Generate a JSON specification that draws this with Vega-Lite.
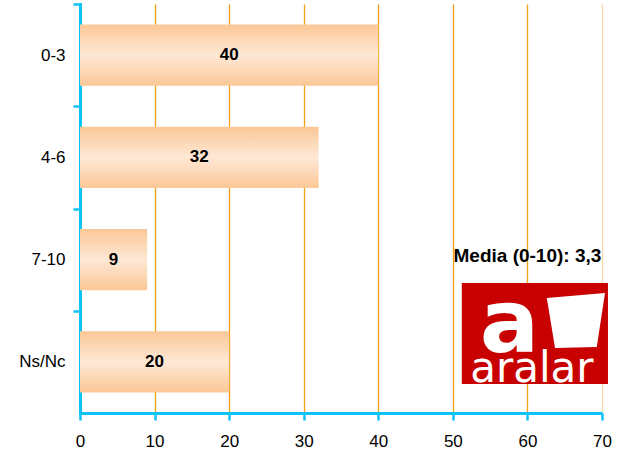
{
  "$schema": "https://vega.github.io/schema/vega-lite/v6.json",
  "width": 522,
  "height": 409,
  "autosize": {"type": "none"},
  "padding": {"left": 80, "top": 4, "right": 25, "bottom": 39},
  "background": "white",
  "config": {
    "view": {"stroke": null},
    "font": "Liberation Sans",
    "axis": {
      "domainColor": "#0BC3F7",
      "domainWidth": 3,
      "tickColor": "#0BC3F7",
      "tickWidth": 2.5,
      "tickSize": 7,
      "labelFont": "Liberation Sans",
      "labelFontSize": 17,
      "labelColor": "#000000",
      "title": null
    }
  },
  "layer": [
    {
      "data": {
        "values": [
          {"cat": "0-3", "value": 40},
          {"cat": "4-6", "value": 32},
          {"cat": "7-10", "value": 9},
          {"cat": "Ns/Nc", "value": 20}
        ]
      },
      "encoding": {
        "y": {
          "field": "cat",
          "type": "nominal",
          "sort": null,
          "scale": {"paddingInner": 0.4, "paddingOuter": 0.2},
          "axis": {"bandPosition": 0, "tickOffset": -20.45, "labelOffset": 20.45, "labelPadding": 8, "domainCap": "square"}
        }
      },
      "layer": [
        {
          "mark": {
            "type": "bar",
            "color": {
              "gradient": "linear",
              "x1": 0, "y1": 0, "x2": 0, "y2": 1,
              "stops": [
                {"offset": 0, "color": "#FBC796"},
                {"offset": 0.5, "color": "#FEE8D5"},
                {"offset": 1, "color": "#FBC796"}
              ]
            }
          },
          "encoding": {
            "x": {
              "field": "value",
              "type": "quantitative",
              "scale": {"domain": [0, 70], "nice": false},
              "axis": {
                "values": [0, 10, 20, 30, 40, 50, 60, 70],
                "grid": true,
                "gridColor": {"condition": {"test": "datum.value === 70", "value": "#FBD8AC"}, "value": "#F6A014"},
                "gridWidth": 1.3,
                "labelPadding": 13,
                "labelFlush": false
              }
            }
          }
        },
        {
          "transform": [{"calculate": "datum.value / 2", "as": "mid"}],
          "mark": {"type": "text", "fontWeight": "bold", "fontSize": 17, "color": "#000000"},
          "encoding": {
            "x": {"field": "mid", "type": "quantitative"},
            "text": {"field": "value", "type": "quantitative"}
          }
        },
        {
          "data": {"values": [{"label": "Media (0-10): 3,3"}]},
          "mark": {"type": "text", "fontWeight": "bold", "fontSize": 19, "color": "#000000", "dy": -4},
          "encoding": {
            "x": {"datum": 60.0, "type": "quantitative"},
            "y": {"datum": "7-10", "type": "nominal"},
            "text": {"field": "label"}
          }
        }
      ]
    },
    {
      "layer": [
        {
          "data": {"values": [{"logo": "aralar"}]},
          "mark": {"type": "rect", "color": "#C80000"},
          "encoding": {
            "x": {"datum": 51.2, "type": "quantitative"},
            "x2": {"datum": 70.8},
            "y": {"datum": 1.271, "type": "quantitative", "scale": {"domain": [0, 4], "nice": false, "zero": false}, "axis": null},
            "y2": {"datum": 0.284}
          }
        },
        {
          "data": {
            "values": [
              {"px": 62.6, "py": 1.125, "o": 1},
              {"px": 70.4, "py": 1.174, "o": 2},
              {"px": 69.3, "py": 0.645, "o": 3},
              {"px": 63.7, "py": 0.636, "o": 4},
              {"px": 62.6, "py": 1.125, "o": 5}
            ]
          },
          "mark": {"type": "line", "filled": true, "color": "#FFFFFF", "strokeWidth": 0},
          "encoding": {
            "x": {"field": "px", "type": "quantitative"},
            "y": {"field": "py", "type": "quantitative", "axis": null},
            "order": {"field": "o"}
          }
        },
        {
          "data": {"values": [{"t": "a"}]},
          "mark": {"type": "text", "font": "DejaVu Sans", "fontWeight": "bold", "fontSize": 88, "color": "#FFFFFF", "baseline": "alphabetic"},
          "encoding": {
            "x": {"datum": 57.6, "type": "quantitative"},
            "y": {"datum": 0.6, "type": "quantitative", "axis": null},
            "text": {"field": "t"}
          }
        },
        {
          "data": {"values": [{"t": "aralar"}]},
          "mark": {"type": "text", "font": "DejaVu Sans", "fontSize": 42, "color": "#FFFFFF", "baseline": "alphabetic"},
          "encoding": {
            "x": {"datum": 60.6, "type": "quantitative"},
            "y": {"datum": 0.3, "type": "quantitative", "axis": null},
            "text": {"field": "t"}
          }
        }
      ]
    }
  ],
  "resolve": {"scale": {"y": "independent"}, "axis": {"y": "independent"}}
}
